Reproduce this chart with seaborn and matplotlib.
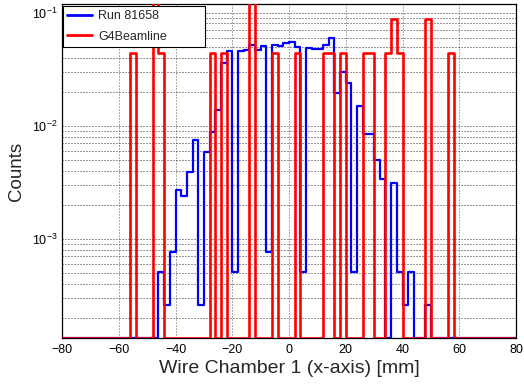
import numpy as np
import pandas as pd
import matplotlib
matplotlib.use("Agg")
import matplotlib.pyplot as plt
import seaborn as sns
from matplotlib.ticker import MultipleLocator, LogLocator, NullFormatter, LogFormatterMathtext
from matplotlib.lines import Line2D

# ---- data (2 mm bins from -80 to 80 mm) ----
bin_edges = list(range(-80, 82, 2))

blue_label = "Run 81658"
blue_bin_start = list(range(-46, 50, 2))
blue_values = [5.1e-4, 2.6e-4, 7.6e-4, 2.7e-3, 2.4e-3, 3.9e-3, 7.4e-3, 2.6e-4,
               5.8e-3, 8.8e-3, 0.0137, 0.036, 0.046, 5.1e-4, 0.046, 0.047,
               0.052, 0.047, 0.051, 7.6e-4, 0.052, 0.051, 0.054, 0.055,
               0.050, 5.1e-4, 0.049, 0.048, 0.048, 0.052, 0.059, 0.0193,
               0.030, 0.0236, 5.1e-4, 0.0149, 8.4e-3, 8.4e-3, 5.0e-3, 3.4e-3,
               0.0, 3.1e-3, 5.1e-4, 2.6e-4, 5.1e-4, 0.0, 0.0, 2.6e-4]

red_label = "G4Beamline"
red_bin_start = [-56, -48, -46, -28, -24, -14, -6, 2, 12, 14, 18, 26, 28,
                 34, 36, 38, 48, 56]
red_values = [0.0435, 0.13, 0.0435, 0.0435, 0.0435, 0.13, 0.0435, 0.0435,
              0.0435, 0.0435, 0.0435, 0.0435, 0.0435, 0.0435, 0.087, 0.0435,
              0.087, 0.0435]

x_ticks = [-80, -60, -40, -20, 0, 20, 40, 60, 80]
x_label = "Wire Chamber 1 (x-axis) [mm]"
y_label = "Counts"

YMIN, YMAX = 1.32e-4, 0.119

# ---- build full histograms ----
centers = np.array(bin_edges[:-1], dtype=float) + 1.0
nb = len(centers)


def full_hist(starts, vals):
    h = np.zeros(nb)
    for s, v in zip(starts, vals):
        h[(s + 80) // 2] = v
    return h


blue_full = full_hist(blue_bin_start, blue_values)
red_full = full_hist(red_bin_start, red_values)

# empty bins are drawn on the axis floor, as in ROOT
df_blue = pd.DataFrame({"x": centers, "w": np.maximum(blue_full, YMIN)})
df_red = pd.DataFrame({"x": centers, "w": np.maximum(red_full, YMIN)})

sns.set_style("white")
plt.rcParams["font.family"] = ["Liberation Sans", "DejaVu Sans"]
plt.rcParams["mathtext.fontset"] = "custom"
plt.rcParams["mathtext.rm"] = "Liberation Sans"
plt.rcParams["mathtext.it"] = "Liberation Sans:italic"

fig = plt.figure(figsize=(5.24, 3.86), dpi=100)
ax = fig.add_axes([62 / 524, 1 - 338 / 386, (516 - 62) / 524, (338 - 4) / 386])

blue = (0, 0, 1)
red = (1, 0, 0)

sns.histplot(data=df_blue, x="x", weights="w", bins=bin_edges, element="step",
             fill=False, color=blue, linewidth=1.6, ax=ax, zorder=3)
sns.histplot(data=df_red, x="x", weights="w", bins=bin_edges, element="step",
             fill=False, color=red, linewidth=1.9, ax=ax, zorder=4)

ax.set_yscale("log")
ax.set_xlim(-80, 80)
ax.set_ylim(YMIN, YMAX)

# ticks
ax.xaxis.set_major_locator(matplotlib.ticker.FixedLocator(x_ticks))
ax.xaxis.set_minor_locator(MultipleLocator(5))
ax.yaxis.set_major_locator(LogLocator(base=10, numticks=10))
ax.yaxis.set_minor_locator(LogLocator(base=10, subs=np.arange(2, 10), numticks=10))
ax.yaxis.set_major_formatter(LogFormatterMathtext())
ax.yaxis.set_minor_formatter(NullFormatter())

ax.tick_params(axis="x", which="major", direction="in", length=5, width=0.8,
               labelsize=9, pad=4, top=False)
ax.tick_params(axis="x", which="minor", direction="in", length=2.5, width=0.8, top=False)
ax.tick_params(axis="y", which="major", direction="in", length=8, width=0.8,
               labelsize=9, pad=3, right=False)
ax.tick_params(axis="y", which="minor", direction="in", length=5, width=0.8, right=False)
ax.tick_params(colors="black")

# grid (dotted, ROOT style)
ax.grid(True, axis="x", which="major", color="0.35", linestyle=(0, (1, 2)), linewidth=0.72)
ax.grid(True, axis="y", which="both", color="0.2", linestyle=(0, (1, 2)), linewidth=0.72)
ax.set_axisbelow(True)

for sp in ax.spines.values():
    sp.set_color("black")
    sp.set_linewidth(0.9)
    sp.set_visible(True)

ax.set_xlabel(x_label, fontsize=14, labelpad=3)
ax.set_ylabel(y_label, fontsize=13.5, labelpad=5)

handles = [Line2D([0], [0], color=blue, lw=2), Line2D([0], [0], color=red, lw=2)]
leg = ax.legend(handles, [blue_label, red_label], loc="upper left",
                bbox_to_anchor=(0.0015, 0.995, 0.313, 0.0), mode="expand",
                fontsize=9, frameon=True, fancybox=False, framealpha=1,
                edgecolor="black", borderaxespad=0, handlelength=2.0,
                handletextpad=0.5, labelspacing=0.7, borderpad=0.35)
leg.get_frame().set_linewidth(0.8)
leg.set_zorder(10)

fig.savefig("out.png", dpi=100)
